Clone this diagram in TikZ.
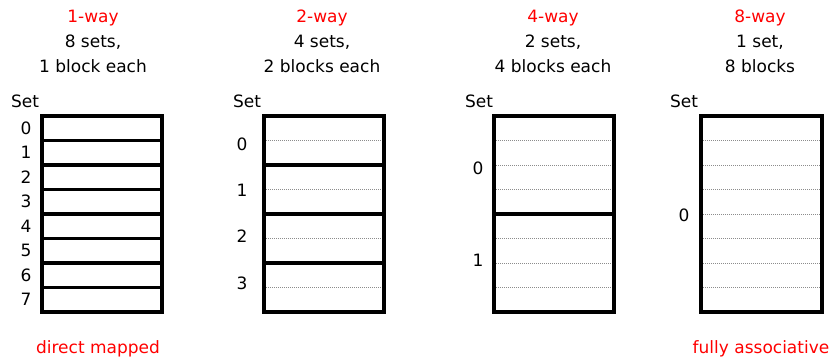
\documentclass[tikz,border=0pt]{standalone}
\usepackage{fontspec}
\setmainfont{DejaVu Sans}
\usetikzlibrary{positioning}
\definecolor{wayred}{RGB}{255,0,0}

\tikzset{
  txt/.style={font=\fontsize{17}{20}\selectfont, inner sep=0pt},
  waytxt/.style={txt, text=wayred},
  setbox/.style={draw=black, line width=3.5pt},
  blockline/.style={draw=gray!90, line width=0.9pt, dash pattern=on 1pt off 1pt},
}

\begin{document}
\begin{tikzpicture}[x=1pt, y=-1pt]
    \useasboundingbox (0,0) rectangle (833,360);

    % =========================================================
    % 1-WAY: 8 sets, 1 block each
    % =========================================================
    \begin{scope}
        \node[waytxt] (way1) at (93, 18) {1-way};
        \node[txt] (sets1) at (93, 42) {8 sets,};
        \node[txt] (blocks1) at (93, 66) {1 block each};
        \node[txt] (setlbl1) at (25, 101) {Set};

        % one row per set
        \foreach \i in {0,...,7} {
            \draw[setbox] (42, 116+24.5*\i) rectangle (162, 116+24.5*\i+24.5);
            \node[txt] (idx1-\i) at (26, 128+24.5*\i) {\i};
        }

        \node[waytxt] (kind1) at (98, 349) {direct mapped};
    \end{scope}

    % =========================================================
    % 2-WAY: 4 sets, 2 blocks each
    % =========================================================
    \begin{scope}
        \node[waytxt] (way2) at (322, 18) {2-way};
        \node[txt] (sets2) at (322, 42) {4 sets,};
        \node[txt] (blocks2) at (322, 66) {2 blocks each};
        \node[txt] (setlbl2) at (247, 101) {Set};

        % blocks inside each set
        \foreach \i in {0,...,3} {
            \draw[blockline] (264, 140.5+49*\i) -- (384, 140.5+49*\i);
            \draw[setbox] (264, 116+49*\i) rectangle (384, 116+49*\i+49);
            \node[txt] (idx2-\i) at (242, 144+46.3*\i) {\i};
        }
    \end{scope}

    % =========================================================
    % 4-WAY: 2 sets, 4 blocks each
    % =========================================================
    \begin{scope}
        \node[waytxt] (way4) at (553, 18) {4-way};
        \node[txt] (sets4) at (553, 42) {2 sets,};
        \node[txt] (blocks4) at (553, 66) {4 blocks each};
        \node[txt] (setlbl4) at (479, 101) {Set};

        \foreach \j in {1,2,3,5,6,7}
            \draw[blockline] (494, 116+24.5*\j) -- (614, 116+24.5*\j);
        \draw[setbox] (494, 116) rectangle (614, 214);
        \draw[setbox] (494, 214) rectangle (614, 312);

        \node[txt] (idx4-0) at (478, 168) {0};
        \node[txt] (idx4-1) at (478, 260) {1};
    \end{scope}

    % =========================================================
    % 8-WAY: 1 set, 8 blocks
    % =========================================================
    \begin{scope}
        \node[waytxt] (way8) at (760, 18) {8-way};
        \node[txt] (sets8) at (760, 42) {1 set,};
        \node[txt] (blocks8) at (760, 66) {8 blocks};
        \node[txt] (setlbl8) at (684, 101) {Set};

        \foreach \j in {1,...,7}
            \draw[blockline] (701, 116+24.5*\j) -- (822, 116+24.5*\j);
        \draw[setbox] (701, 116) rectangle (822, 312);

        \node[txt] (idx8-0) at (684, 215) {0};

        \node[waytxt] (kind8) at (761, 349) {fully associative};
    \end{scope}
\end{tikzpicture}
\end{document}
